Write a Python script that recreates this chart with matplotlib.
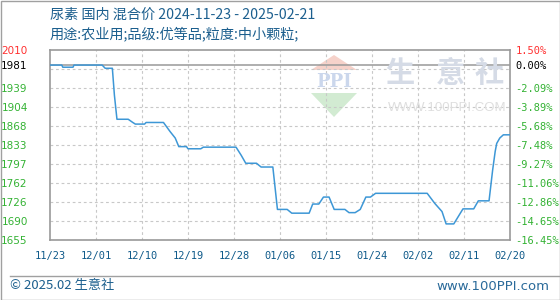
import matplotlib
matplotlib.use("Agg")
import matplotlib.pyplot as plt
from matplotlib.patches import Polygon, Rectangle
from matplotlib.lines import Line2D

plt.rcParams['font.family'] = ['Noto Sans CJK SC', 'DejaVu Sans']

# data: days after 2024-11-23, price (yuan/t)
days = [0, 2.3, 2.5, 4.5, 4.7, 10.2, 10.4, 10.8, 12.2, 12.6, 13.1, 15.3, 16.2, 16.7,
        18.5, 18.8, 22.2, 23.5, 24.5, 25.2, 26.7, 27.0, 29.5, 30.0, 36.4, 37.4, 38.3,
        40.4, 41.3, 43.6, 44.5, 46.4, 47.3, 50.7, 51.4, 52.6, 53.5, 54.6, 55.6, 57.7,
        58.5, 59.7, 60.7, 61.8, 62.7, 63.7, 73.8, 75.3, 76.7, 77.5, 79.0, 80.8, 82.9,
        83.8, 85.9, 86.6, 87.1, 87.4, 88.0, 88.7, 90]
prices = [1981, 1981, 1977, 1977, 1981, 1981, 1979, 1975, 1975, 1925, 1880, 1880, 1874, 1871,
          1871, 1874, 1874, 1857, 1845, 1829, 1829, 1825, 1825, 1828, 1828, 1813, 1798,
          1798, 1791, 1791, 1712, 1712, 1705, 1705, 1722, 1722, 1735, 1735, 1712, 1712,
          1706, 1706, 1712, 1735, 1735, 1742, 1742, 1723, 1708, 1685, 1685, 1713, 1713,
          1728, 1728, 1785, 1820, 1835, 1845, 1851, 1851]

base_price = 1981
y_min, y_max = 1655, 2010
grid_vals = [1655, 1690.5, 1726, 1761.5, 1797, 1832.5, 1868, 1903.5, 1939, 1974.5, 2010]
left_labels = ['1655', '1690', '1726', '1762', '1797', '1833', '1868', '1904', '1939', '', '2010']
right_labels = ['-16.45%', '-14.65%', '-12.86%', '-11.06%', '-9.27%', '-7.48%', '-5.68%',
                '-3.89%', '-2.09%', '', '1.50%']
x_ticks = [0, 9, 18, 27, 36, 45, 54, 63, 72, 81, 90]
x_labels = ['11/23', '12/01', '12/10', '12/19', '12/28', '01/06', '01/15', '01/24',
            '02/02', '02/11', '02/20']

title = '尿素 国内 混合价 2024-11-23 - 2025-02-21'
subtitle = '用途:农业用;品级:优等品;粒度:中小颗粒;'

blue_txt = '#1c5f8e'
green = '#33b233'
red = '#ff3030'

fig = plt.figure(figsize=(5.6, 3.0), dpi=100)
W, H = 560, 300

def fx(px):
    return px / W

def fy(py):
    return 1 - py / H

# outer frame and footer separator
fig.add_artist(Rectangle((fx(0.5), fy(299.5)), fx(559), 299 / H, fill=False,
                         edgecolor='#a0a0a0', lw=1))
fig.add_artist(Line2D([fx(10), fx(560)], [fy(275.5), fy(275.5)], color='#a0a0a0', lw=1))

ax = fig.add_axes([fx(50), fy(240), fx(460), 190.5 / H])
ax.set_xlim(0, 90)
ax.set_ylim(y_min, y_max)

# watermark (behind grid)
wm = dict(transform=fig.transFigure, zorder=0)
fig.add_artist(Polygon([[fx(334), fy(55)], [fx(311), fy(70)], [fx(357), fy(70)]],
                       closed=True, facecolor='#f6d2ca', edgecolor='none', zorder=0))
fig.add_artist(Polygon([[fx(311), fy(93)], [fx(357), fy(93)], [fx(334), fy(117)]],
                       closed=True, facecolor='#d2ebd2', edgecolor='none', zorder=0))
fig.text(fx(334), fy(82), 'PPI', ha='center', va='center', fontsize=13, fontweight='bold',
         color='#cbd7ec', family=['DejaVu Serif'], **wm)
for ch, cx in zip('生意社', [400, 450, 489]):
    fig.text(fx(cx), fy(73), ch, ha='center', va='center', fontsize=21, fontweight='bold',
             color='#d5dbe6', **wm)
fig.text(fx(447), fy(108), 'WWW.100PPI.COM', ha='center', va='center', fontsize=9.5,
         color='#dedede', family=['Liberation Sans'], **wm)
ax.patch.set_alpha(0)

for g in grid_vals[:-1]:
    ax.axhline(g, color='#c8c8c8', lw=0.8, ls=(0, (2.5, 2.5)), zorder=1)
for t in x_ticks[1:-1]:
    ax.axvline(t, color='#c8c8c8', lw=0.8, ls=(0, (2.5, 2.5)), zorder=1)
ax.axhline(base_price, color='#999999', lw=1.1, zorder=2)

ax.plot(days, prices, color='#3d97d6', lw=1.1, zorder=3)

for s in ax.spines.values():
    s.set_color('#999999')
    s.set_linewidth(1.2)

# left labels
ax.set_yticks(grid_vals + [base_price])
ax.set_yticklabels(left_labels + ['1981'], family=['DejaVu Sans'], fontsize=7.5)
ax.tick_params(axis='y', length=0, pad=16)
for lab, txt in zip(ax.get_yticklabels(), left_labels + ['1981']):
    lab.set_color(red if txt == '2010' else ('black' if txt == '1981' else green))

ax.set_xticks(x_ticks)
ax.set_xticklabels(x_labels, family=['DejaVu Sans Mono'], fontsize=7.5, color='#0f5a8a')
ax.tick_params(axis='x', length=0, pad=8)

ax2 = ax.twinx()
ax2.set_ylim(y_min, y_max)
ax2.set_yticks(grid_vals + [base_price])
ax2.set_yticklabels(right_labels + ['0.00%'], family=['DejaVu Sans Mono'], fontsize=7.5)
ax2.tick_params(axis='y', length=0, pad=4)
for lab, txt in zip(ax2.get_yticklabels(), right_labels + ['0.00%']):
    lab.set_color(red if txt == '1.50%' else ('black' if txt == '0.00%' else green))
for s in ax2.spines.values():
    s.set_visible(False)

fig.text(fx(50), fy(15), title, ha='left', va='center', fontsize=10.2, color=blue_txt)
fig.text(fx(50), fy(34), subtitle, ha='left', va='center', fontsize=10.2, color=blue_txt)
fig.text(fx(10), fy(286), '© 2025.02 生意社', ha='left', va='center', fontsize=9.5,
         color=blue_txt)
fig.text(fx(549), fy(286), 'www.100PPI.com', ha='right', va='center', fontsize=9.5,
         color='#2a6a9a', family=['DejaVu Sans'])

fig.savefig('out.png', dpi=100)
